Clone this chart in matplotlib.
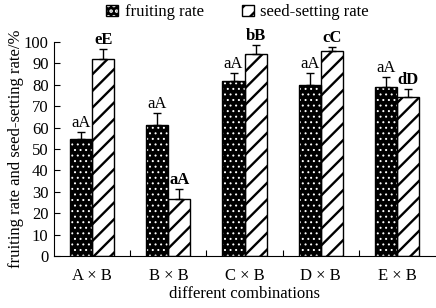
import matplotlib
matplotlib.use('Agg')
import matplotlib.pyplot as plt
import numpy as np
from matplotlib.patches import Patch
from matplotlib.legend_handler import HandlerTuple

combos = ['A × B', 'B × B', 'C × B', 'D × B', 'E × B']
fruit = [54.5, 61.3, 81.5, 79.7, 78.8]
fruit_err = [3.2, 5.4, 3.9, 5.6, 4.6]
fruit_lab = ['aA', 'aA', 'aA', 'aA', 'aA']
seed = [92.0, 26.8, 94.4, 95.6, 74.3]
seed_err = [4.5, 4.5, 4.1, 2.2, 3.5]
seed_lab = ['eE', 'aA', 'bB', 'cC', 'dD']

plt.rcParams['font.family'] = ['Liberation Serif', 'DejaVu Serif']
plt.rcParams['font.size'] = 12

fig = plt.figure(figsize=(4.36, 3.08), dpi=100)
ax = fig.add_axes([0.124, 0.169, 0.874, 0.695])

x = np.arange(len(combos))
w = 0.29

# fruiting: black with white dots (hatch drawn in white, then black outline on top)
plt.rcParams['hatch.linewidth'] = 0.7
ax.bar(x - w / 2, fruit, w, facecolor='black', edgecolor='white', hatch='...', linewidth=0, zorder=2)
ax.bar(x - w / 2, fruit, w, fill=False, edgecolor='black', linewidth=1, zorder=3)
h1 = (Patch(facecolor='black', edgecolor='white', hatch='...', linewidth=0),
      Patch(fill=False, edgecolor='black', linewidth=1))
ax.errorbar(x - w / 2, fruit, yerr=[np.zeros(5), fruit_err], fmt='none', ecolor='black',
            elinewidth=1, capsize=3, capthick=1, zorder=4)

# seed-setting: white with black stripes
plt.rcParams['hatch.linewidth'] = 1.7
ax.bar(x + w / 2, seed, w, facecolor='white', edgecolor='black', hatch='//', linewidth=1, zorder=2)
h2 = Patch(facecolor='white', edgecolor='black', hatch='//', linewidth=1)
ax.errorbar(x + w / 2, seed, yerr=[np.zeros(5), seed_err], fmt='none', ecolor='black',
            elinewidth=1, capsize=3, capthick=1, zorder=4)

for i in range(len(combos)):
    ax.text(x[i] - w / 2, fruit[i] + fruit_err[i] + 0.5, fruit_lab[i], ha='center', va='bottom', fontsize=12)
    ax.text(x[i] + w / 2, seed[i] + seed_err[i] + 0.5, seed_lab[i], ha='center', va='bottom',
            fontsize=12, fontweight='bold')

ax.set_xlim(-0.5, len(combos) - 0.5)
ax.set_ylim(0, 100)
ax.set_yticks(np.arange(0, 101, 10))
ax.tick_params(axis='y', direction='in', length=4, width=0.8, labelsize=12, pad=4)
ax.set_xticks(x)
ax.set_xticklabels(combos)
ax.tick_params(axis='x', which='major', length=0, pad=9, labelsize=12)
ax.set_xticks(np.arange(0.5, len(combos) - 0.5, 1), minor=True)
ax.tick_params(axis='x', which='minor', direction='in', length=4, width=0.8)
for s in ['top', 'right']:
    ax.spines[s].set_visible(False)
for s in ['left', 'bottom']:
    ax.spines[s].set_linewidth(0.8)

ax.set_xlabel('different combinations', fontsize=12, labelpad=1)
ax.set_ylabel('fruiting rate and seed-setting rate/%', fontsize=12, labelpad=0)

fig.legend([h1, h2], ['fruiting rate', 'seed-setting rate'],
           handler_map={tuple: HandlerTuple(ndivide=1, pad=0)},
           loc='upper center', bbox_to_anchor=(0.545, 1.035), ncol=2, frameon=False,
           handlelength=0.7, handleheight=0.7, handletextpad=0.4, columnspacing=2.3, fontsize=12)

fig.savefig('out.png', dpi=100)
